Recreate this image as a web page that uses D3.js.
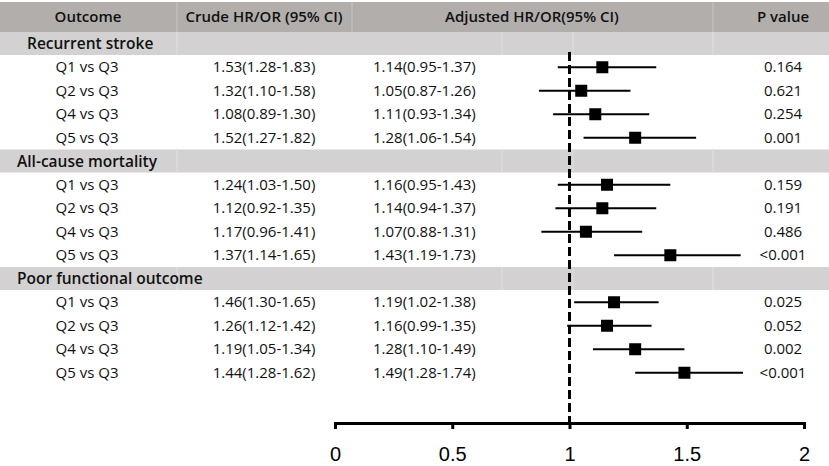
<!DOCTYPE html>
<html>
<head>
<meta charset="utf-8">
<script src="https://cdn.jsdelivr.net/npm/d3@7"></script>
<style>
	body { margin: 0; background: #fff; }
	svg text { font-family: "Open Sans", "Noto Sans", sans-serif; fill: #111; }
	.hdr { font-weight: 600; font-size: 15px; }
	.grp { font-weight: 600; font-size: 15.5px; }
	.cell { font-size: 15px; }
	.axis text { font-family: "Liberation Sans", Arial, sans-serif; font-size: 20px; fill: #000; }
</style>
</head>
<body>
<div id="chart"></div>
<script>
// column headings
var headers = ["Outcome", "Crude HR/OR (95% CI)", "Adjusted HR/OR(95% CI)", "P value"];

// outcome groups and the quintile comparisons inside each
var groups = ["Recurrent stroke", "All-cause mortality", "Poor functional outcome"];
var comparisons = ["Q1 vs Q3", "Q2 vs Q3", "Q4 vs Q3", "Q5 vs Q3"];

// crude estimates, one row of 4 per group
var crudeEst = [[1.53, 1.32, 1.08, 1.52], [1.24, 1.12, 1.17, 1.37], [1.46, 1.26, 1.19, 1.44]];
var crudeLow = [[1.28, 1.10, 0.89, 1.27], [1.03, 0.92, 0.96, 1.14], [1.30, 1.12, 1.05, 1.28]];
var crudeHigh = [[1.83, 1.58, 1.30, 1.82], [1.50, 1.35, 1.41, 1.65], [1.65, 1.42, 1.34, 1.62]];

// adjusted estimates (these are plotted)
var adjEst = [[1.14, 1.05, 1.11, 1.28], [1.16, 1.14, 1.07, 1.43], [1.19, 1.16, 1.28, 1.49]];
var adjLow = [[0.95, 0.87, 0.93, 1.06], [0.95, 0.94, 0.88, 1.19], [1.02, 0.99, 1.10, 1.28]];
var adjHigh = [[1.37, 1.26, 1.34, 1.54], [1.43, 1.37, 1.31, 1.73], [1.38, 1.35, 1.49, 1.74]];

var pValues = [["0.164", "0.621", "0.254", "0.001"], ["0.159", "0.191", "0.486", "<0.001"], ["0.025", "0.052", "0.002", "<0.001"]];

// axis ticks
var tickValues = [0, 0.5, 1, 1.5, 2];

var width = 829, height = 466;
var f2 = d3.format(".2f");

// flatten into table rows
var rows = [];
groups.forEach(function(g, gi) {
	rows.push({type: "group", label: g, gi: gi});
	comparisons.forEach(function(c, ci) {
		rows.push({
			type: "item", label: c,
			crude: f2(crudeEst[gi][ci]) + "(" + f2(crudeLow[gi][ci]) + "-" + f2(crudeHigh[gi][ci]) + ")",
			adjText: f2(adjEst[gi][ci]) + "(" + f2(adjLow[gi][ci]) + "-" + f2(adjHigh[gi][ci]) + ")",
			est: adjEst[gi][ci], lo: adjLow[gi][ci], hi: adjHigh[gi][ci],
			p: pValues[gi][ci]
		});
	});
});

var svg = d3.select("#chart").append("svg")
	.attr("width", width)
	.attr("height", height);

var headerTop = 2, headerH = 30;
var rowH = 23.5;

var y = d3.scaleBand()
	.domain(d3.range(rows.length))
	.range([headerTop + headerH, headerTop + headerH + rows.length * rowH]);

var x = d3.scaleLinear()
	.domain([0, 2])
	.range([335, 804]);

var axisY = 423;

// header band
svg.append("rect")
	.attr("x", 0).attr("y", headerTop)
	.attr("width", width).attr("height", headerH)
	.attr("fill", "#b2aeac");

[177, 352, 713].forEach(function(sx) {
	svg.append("line")
		.attr("x1", sx).attr("x2", sx)
		.attr("y1", headerTop).attr("y2", headerTop + headerH)
		.attr("stroke", "#c2bebc").attr("stroke-width", 1.5);
});

var headerX = [88, 264, 532, 783];
svg.selectAll("text.hdr")
	.data(headers)
	.enter().append("text")
		.attr("class", "hdr")
		.attr("x", function(d, i) { return headerX[i]; })
		.attr("y", headerTop + headerH / 2 + 5)
		.attr("text-anchor", "middle")
		.text(function(d) { return d; });

// group bands
var groupRows = rows.map(function(r, i) { return {r: r, i: i}; }).filter(function(d) { return d.r.type == "group"; });

svg.selectAll("rect.grp")
	.data(groupRows)
	.enter().append("rect")
		.attr("class", "grp")
		.attr("x", 0)
		.attr("y", function(d) { return y(d.i); })
		.attr("width", width)
		.attr("height", y.bandwidth() - 0.5)
		.attr("fill", "#d3d1d1");

groupRows.forEach(function(d) {
	[177, 502, 573, 713].forEach(function(sx) {
		svg.append("line")
			.attr("x1", sx).attr("x2", sx)
			.attr("y1", y(d.i)).attr("y2", y(d.i) + y.bandwidth() - 0.5)
			.attr("stroke", "#dcdada").attr("stroke-width", 1.5);
	});
});

svg.selectAll("text.grp")
	.data(groupRows)
	.enter().append("text")
		.attr("class", "grp")
		.attr("x", function(d) { return d.r.gi == 0 ? 27 : 17; })
		.attr("y", function(d) { return y(d.i) + y.bandwidth() / 2 + 5.5; })
		.text(function(d) { return d.r.label; });

// item rows
var itemRows = rows.map(function(r, i) { return {r: r, i: i}; }).filter(function(d) { return d.r.type == "item"; });
var cy = function(d) { return y(d.i) + y.bandwidth() / 2; };

var items = svg.selectAll("g.item")
	.data(itemRows)
	.enter().append("g")
		.attr("class", "item");

items.append("text").attr("class", "cell")
	.attr("x", 87).attr("y", function(d) { return cy(d) + 5; })
	.attr("text-anchor", "middle")
	.text(function(d) { return d.r.label; });

items.append("text").attr("class", "cell")
	.attr("x", 264).attr("y", function(d) { return cy(d) + 5; })
	.attr("text-anchor", "middle")
	.text(function(d) { return d.r.crude; });

items.append("text").attr("class", "cell")
	.attr("x", 373).attr("y", function(d) { return cy(d) + 5; })
	.text(function(d) { return d.r.adjText; });

items.append("text").attr("class", "cell")
	.attr("x", 783).attr("y", function(d) { return cy(d) + 5; })
	.attr("text-anchor", "middle")
	.text(function(d) { return d.r.p; });

// reference line at 1
svg.append("line")
	.attr("x1", x(1)).attr("x2", x(1))
	.attr("y1", 52).attr("y2", axisY)
	.attr("stroke", "#000")
	.attr("stroke-width", 3)
	.attr("stroke-dasharray", "9,4");

// CI lines and squares
items.append("line")
	.attr("x1", function(d) { return x(d.r.lo); })
	.attr("x2", function(d) { return x(d.r.hi); })
	.attr("y1", function(d) { return cy(d); })
	.attr("y2", function(d) { return cy(d); })
	.attr("stroke", "#000")
	.attr("stroke-width", 2);

var sq = 12;
items.append("rect")
	.attr("x", function(d) { return x(d.r.est) - sq / 2; })
	.attr("y", function(d) { return cy(d) - sq / 2; })
	.attr("width", sq)
	.attr("height", sq)
	.attr("fill", "#000");

// axis
var axis = svg.append("g")
	.attr("class", "axis")
	.attr("transform", "translate(0," + axisY + ")")
	.call(d3.axisBottom(x)
		.tickValues(tickValues)
		.tickFormat(d3.format(""))
		.tickSizeOuter(0)
		.tickSize(6)
		.tickPadding(18));

axis.select(".domain").attr("stroke", "#000").attr("stroke-width", 3);
axis.selectAll(".tick line").attr("stroke", "#000").attr("stroke-width", 3);
</script>
</body>
</html>
